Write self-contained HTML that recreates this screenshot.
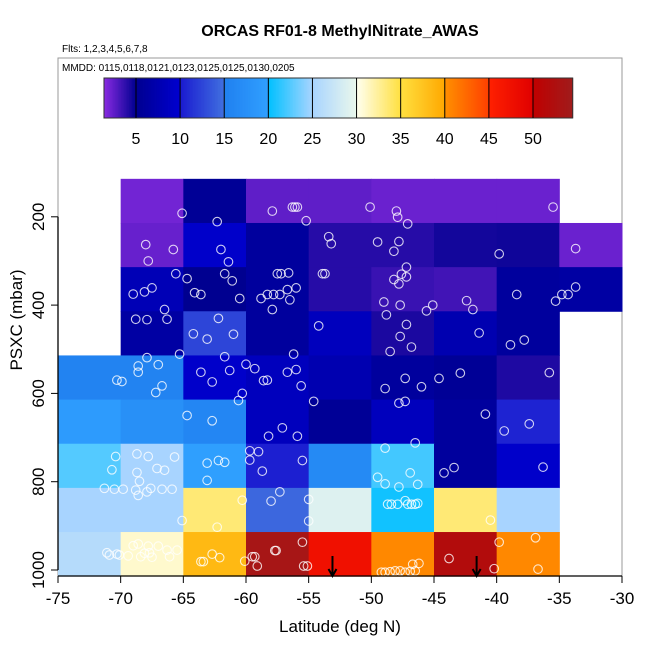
<!DOCTYPE html>
<html><head><meta charset="utf-8"><style>
body{margin:0;background:#fff;}
svg text{font-family:"Liberation Sans",sans-serif;}
</style></head><body>
<svg id="chart" width="650" height="650" viewBox="0 0 650 650" xmlns="http://www.w3.org/2000/svg">
<text x="340" y="36" text-anchor="middle" font-size="16" font-weight="bold">ORCAS RF01-8 MethylNitrate_AWAS</text>
<text x="62" y="52" font-size="10">Flts: 1,2,3,4,5,6,7,8</text>
<rect x="58" y="58" width="564" height="518" fill="none" stroke="#999" stroke-width="1"/>
<text x="62" y="71" font-size="10">MMDD: 0115,0118,0121,0123,0125,0125,0130,0205</text>
<g id="cells"></g>
<g id="pts"></g>
<g id="arrows"></g>
<g id="cbar"></g>
<g id="axes"></g>
<text x="340" y="632" text-anchor="middle" font-size="17">Latitude (deg N)</text>
<text transform="translate(22,320) rotate(-90)" text-anchor="middle" font-size="17">PSXC (mbar)</text>
</svg>
<script>
// data
const latEdges = [-75,-70,-65,-60,-55,-50,-45,-40,-35,-30];
const presEdges = [114,214,314,414,514,614,714,814,914,1014];
// cell values rows top (114-214) to bottom; columns -75..-30
const cellValues = [
 [null,2.0,5.5,2.5,2.5,2.2,2.2,2.2,null],
 [null,2.3,9.5,6,4,4,4.5,4.6,2.2],
 [null,8,5,6,4,3.5,3.3,6,6.5],
 [null,6.5,12.5,6,8.5,4.3,7.5,6,null],
 [15.5,15.5,9.5,8.5,7.5,6,5.5,4.2,null],
 [19.2,17.5,16,8.5,5.5,8.5,6,10.5,null],
 [22.5,25,19.8,10.3,16.5,22,6,9.5,null],
 [25,25,33.5,14.5,29,20.5,33.5,25,null],
 [26,31,38.5,53.5,47.5,40.5,52,40.5,null]
];
const ptLat = [-65.1,-62.3,-57.9,-56.3,-56.1,-55.9,-55.2,-50.1,-68.0,-65.8,-67.8,-62.0,-61.4,-53.4,-53.2,-65.6,-64.7,-61.7,-61.1,-57.5,-57.2,-56.6,-53.9,-53.7,-69.0,-68.1,-67.5,-64.1,-63.6,-60.5,-58.8,-58.3,-57.8,-57.3,-56.7,-56.0,-56.5,-66.5,-68.8,-67.9,-66.3,-57.9,-62.2,-64.2,-63.1,-61.0,-54.2,-65.3,-67.9,-67.0,-68.6,-68.6,-70.3,-69.9,-66.7,-67.2,-61.7,-63.6,-61.3,-62.7,-60.0,-59.3,-56.2,-56.7,-56.0,-58.6,-58.3,-55.6,-60.3,-60.6,-54.6,-64.7,-62.7,-57.1,-58.2,-55.9,-68.7,-67.8,-65.7,-67.1,-66.5,-68.7,-68.5,-68.8,-68.6,-69.8,-70.4,-67.9,-67.6,-66.7,-65.9,-63.1,-62.2,-61.7,-63.1,-59.7,-59.0,-59.7,-58.7,-55.5,-57.3,-58.0,-60.3,-55.0,-65.1,-62.3,-55.0,-70.3,-70.1,-69.4,-69.0,-68.6,-68.4,-68.1,-67.8,-67.5,-67.0,-66.3,-66.1,-65.5,-67.7,-63.6,-63.4,-62.7,-62.1,-60.1,-59.5,-59.3,-59.1,-57.7,-57.6,-55.5,-55.4,-55.1,-48.0,-47.9,-47.1,-35.5,-49.5,-47.8,-48.2,-39.8,-33.7,-47.2,-47.6,-47.2,-48.2,-47.8,-49.0,-47.7,-45.1,-45.6,-42.4,-41.9,-38.4,-35.3,-34.8,-34.3,-33.7,-48.8,-47.2,-47.7,-46.8,-48.5,-41.4,-38.9,-37.8,-47.3,-48.9,-46.0,-44.6,-42.9,-35.8,-47.8,-47.3,-40.9,-39.4,-37.4,-46.5,-48.9,-44.2,-43.4,-36.3,-49.5,-48.9,-47.8,-46.9,-46.3,-48.7,-48.4,-47.9,-47.3,-47.1,-46.8,-46.5,-46.3,-40.5,-39.8,-36.9,-43.8,-40.2,-36.7,-49.2,-48.9,-48.5,-48.1,-47.7,-47.3,-46.9,-46.5,-46.7,-46.2,-70.7,-71.3,-70.5,-71.1,-70.9];
const ptPres = [192,211,187,178,178,178,209,178,263,274,300,274,302,245,261,329,340,329,345,329,329,327,329,329,375,370,361,372,376,385,385,376,376,376,365,361,388,410,432,433,432,410,430,465,477,466,447,511,519,535,538,552,570,573,583,598,517,552,548,574,534,544,511,552,546,571,570,583,600,616,618,650,662,678,697,697,737,743,744,770,774,779,799,819,831,817,743,823,815,817,817,758,752,756,797,730,732,751,776,752,823,844,842,840,888,903,889,964,966,968,945,941,970,962,946,971,946,955,970,955,961,981,981,964,972,980,970,970,991,956,956,937,991,991,187,201,216,178,257,256,278,284,272,314,330,336,342,352,393,400,400,413,390,410,376,391,376,376,359,422,444,471,495,505,463,490,479,566,589,585,566,554,553,622,618,647,685,669,712,724,780,768,767,790,805,812,780,806,851,851,851,843,851,851,851,849,887,937,927,974,997,998,1005,1005,1004,1002,1002,1005,1003,1002,987,985,773,815,817,961,966];
const arrowLats = [-53.1,-41.6];
const cbTicks = [5,10,15,20,25,30,35,40,45,50];
const cbMin = 1.37, cbMax = 54.5;

const NS='http://www.w3.org/2000/svg';
const X = lat => 58 + (lat + 75) * 564 / 45;
const Y = p => 570 + (p - 1000) * 0.4415;
const CX = v => 136 + (v - 5) * (533 - 136) / 45;
const stops = [[1.37,'#8a2be2'],[5,'#000090'],[10,'#0000d0'],[10.001,'#1a1ad0'],[15,'#4070e0'],[15.001,'#2080f0'],[20,'#30a0ff'],[20.001,'#00c0ff'],[25,'#a8d4ff'],[30,'#eaf8ec'],[30.001,'#fffff0'],[35,'#ffe040'],[40,'#ffa800'],[40.001,'#ff9000'],[45,'#ff4000'],[45.001,'#ff2000'],[50,'#e00000'],[50.001,'#c00000'],[54.5,'#a01c1c']];
function hex(h){return [1,3,5].map(i=>parseInt(h.substr(i,2),16));}
function cmap(v){
  if(v<=stops[0][0]) return stops[0][1];
  for(let i=1;i<stops.length;i++){
    if(v<=stops[i][0]){
      const a=hex(stops[i-1][1]), b=hex(stops[i][1]);
      const t=(v-stops[i-1][0])/(stops[i][0]-stops[i-1][0]);
      return 'rgb('+a.map((c,k)=>Math.round(c+(b[k]-c)*t)).join(',')+')';
    }
  }
  return stops[stops.length-1][1];
}
function mk(tag, attrs, parent){const e=document.createElementNS(NS,tag);for(const k in attrs)e.setAttribute(k,attrs[k]);parent.appendChild(e);return e;}

const cells=document.getElementById('cells');
cellValues.forEach((row,r)=>row.forEach((v,c)=>{
  if(v===null) return;
  const x0=X(latEdges[c]), x1=X(latEdges[c+1]);
  const y0=Y(presEdges[r]), y1=Y(presEdges[r+1]);
  const e=mk('rect',{x:x0,y:y0,width:x1-x0+0.5,height:y1-y0+0.5,fill:cmap(v)},cells);
  
  
}));

const pts=document.getElementById('pts');
ptLat.forEach((la,i)=>{
  const e=mk('circle',{cx:X(la),cy:Y(ptPres[i]),r:4.3,fill:'none',stroke:'rgba(255,255,255,0.8)','stroke-width':1.1},pts);
  
  
});

const arr=document.getElementById('arrows');
arrowLats.forEach(la=>{
  const x=X(la);
  const g=mk('g',{},arr);
  
  
  mk('line',{x1:x,y1:556,x2:x,y2:576,stroke:'#000','stroke-width':2},g);
  mk('polyline',{points:(x-4)+',569 '+x+',576 '+(x+4)+',569',fill:'none',stroke:'#000','stroke-width':2},g);
});

// colorbar
const cb=document.getElementById('cbar');
const n=300;
for(let i=0;i<n;i++){
  const v0=cbMin+(cbMax-cbMin)*i/n, v1=cbMin+(cbMax-cbMin)*(i+1)/n;
  mk('rect',{x:CX(v0),y:78,width:CX(v1)-CX(v0)+0.4,height:40,fill:cmap((v0+v1)/2)},cb);
}
mk('rect',{x:CX(cbMin),y:78,width:CX(cbMax)-CX(cbMin),height:40,fill:'none',stroke:'#333','stroke-width':1},cb);
cbTicks.forEach(t=>{
  mk('line',{x1:CX(t),y1:78,x2:CX(t),y2:118,stroke:'#000','stroke-width':1},cb);
  const tx=mk('text',{x:CX(t),y:144,'text-anchor':'middle','font-size':16},cb);
  tx.textContent=t;
  
  
});

// axes
const ax=document.getElementById('axes');
const xTicks=[-75,-70,-65,-60,-55,-50,-45,-40,-35,-30];
const yTicks=[200,400,600,800,1000];
mk('line',{x1:X(-75),y1:576,x2:X(-30),y2:576,stroke:'#000','stroke-width':1.3},ax);
xTicks.forEach(t=>{
  mk('line',{x1:X(t),y1:576,x2:X(t),y2:583,stroke:'#000','stroke-width':1},ax);
  const tx=mk('text',{x:X(t),y:604,'text-anchor':'middle','font-size':17},ax);
  tx.textContent=t;
  
  
});
mk('line',{x1:58,y1:Y(200),x2:58,y2:Y(1000),stroke:'#000','stroke-width':1.3},ax);
yTicks.forEach(t=>{
  mk('line',{x1:51,y1:Y(t),x2:58,y2:Y(t),stroke:'#000','stroke-width':1},ax);
  const tx=mk('text',{transform:'translate(44,'+Y(t)+') rotate(-90)','text-anchor':'middle','font-size':17},ax);
  tx.textContent=t;
  
  
});
</script>
</body></html>
